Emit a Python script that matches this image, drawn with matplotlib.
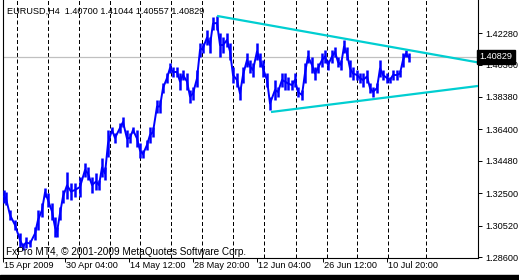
import matplotlib
matplotlib.use("Agg")
from matplotlib import pyplot as plt
from matplotlib.patches import Rectangle

# EURUSD H4 bars (bar index, high, low)
bars = [1, 3, 7, 12, 17, 20, 23, 27, 32, 35, 39, 42, 45, 49, 52, 54, 57, 60, 64,
        68, 72, 77, 82, 85, 89, 93, 96, 99, 102, 105, 109, 112, 117, 120, 124, 127, 130, 134,
        137, 140, 144, 147, 150, 154, 157, 160, 164, 167, 170, 174, 177, 180, 184, 187, 190, 194, 197, 200, 204, 207,
        210, 214, 217, 220, 224, 227, 230, 234, 237, 240, 244, 247, 250, 254, 257, 260, 264, 267,
        272, 275, 279, 282, 285, 289, 292, 295, 299, 302, 305, 309, 312, 315, 319, 322, 325, 329, 332, 335,
        338, 341, 344, 347, 350, 354, 357, 360, 364, 367, 370, 374, 377, 380, 384, 387, 390, 394, 397, 400, 403, 406]
highs = [1.3269, 1.3257, 1.3147, 1.3086, 1.3007, 1.2946, 1.2982, 1.2964, 1.3043, 1.3147, 1.3190, 1.3282, 1.3251, 1.3190, 1.3104, 1.3043, 1.3166, 1.3269, 1.3380,
         1.3312, 1.3312, 1.3349, 1.3434, 1.3410, 1.3349, 1.3373, 1.3330, 1.3465, 1.3410, 1.3636, 1.3654, 1.3618, 1.3679, 1.3715, 1.3636, 1.3618, 1.3654, 1.3636,
         1.3557, 1.3514, 1.3575, 1.3654, 1.3654, 1.3819, 1.3819, 1.3923, 1.3984, 1.4045, 1.4021, 1.4021, 1.3984, 1.4003, 1.3984, 1.3880, 1.3899, 1.4003, 1.4168, 1.4168, 1.4247, 1.4204,
         1.4326, 1.4333, 1.4229, 1.4204, 1.4229, 1.4168, 1.4021, 1.3984, 1.3899, 1.4021, 1.4106, 1.4064, 1.4045, 1.4168, 1.4106, 1.4064, 1.3984, 1.3838,
         1.3941, 1.3899, 1.3984, 1.3984, 1.3960, 1.3941, 1.3984, 1.3899, 1.3880, 1.4045, 1.4125, 1.4082, 1.4021, 1.4045, 1.4106, 1.4125, 1.4064, 1.4125, 1.4143, 1.4082,
         1.4064, 1.4186, 1.4143, 1.4064, 1.4021, 1.4003, 1.3984, 1.3984, 1.4003, 1.3923, 1.3899, 1.3923, 1.4064, 1.4003, 1.3984, 1.3960, 1.4003, 1.4003, 1.4003, 1.4106, 1.4125, 1.4106]
lows = [1.3190, 1.3178, 1.3086, 1.3025, 1.2921, 1.2903, 1.2915, 1.2921, 1.2964, 1.3025, 1.3104, 1.3227, 1.3166, 1.3086, 1.2982, 1.2982, 1.3086, 1.3190, 1.3215,
        1.3208, 1.3227, 1.3227, 1.3349, 1.3330, 1.3251, 1.3269, 1.3269, 1.3349, 1.3330, 1.3471, 1.3618, 1.3557, 1.3618, 1.3654, 1.3532, 1.3557, 1.3618, 1.3532,
        1.3465, 1.3465, 1.3514, 1.3557, 1.3593, 1.3740, 1.3740, 1.3862, 1.3923, 1.3984, 1.3960, 1.3960, 1.3880, 1.3941, 1.3880, 1.3801, 1.3819, 1.3899, 1.4082, 1.4106, 1.4155, 1.4106,
        1.4247, 1.4247, 1.4082, 1.4106, 1.4143, 1.4064, 1.3923, 1.3899, 1.3819, 1.3923, 1.4021, 1.3984, 1.3960, 1.4064, 1.4021, 1.3960, 1.3899, 1.3758,
        1.3819, 1.3838, 1.3899, 1.3880, 1.3880, 1.3880, 1.3899, 1.3838, 1.3819, 1.3923, 1.4045, 1.3984, 1.3941, 1.3984, 1.4021, 1.4045, 1.4003, 1.4045, 1.4082, 1.4021,
        1.4003, 1.4106, 1.4064, 1.3960, 1.3941, 1.3941, 1.3923, 1.3899, 1.3923, 1.3862, 1.3838, 1.3862, 1.3960, 1.3941, 1.3923, 1.3923, 1.3941, 1.3941, 1.3960, 1.4021, 1.4082, 1.4051]

last_price = 1.40829
header = "EURUSD,H4  1.40700 1.41044 1.40557 1.40829"
footer = "FxPro MT4, \u00a9 2001-2009 MetaQuotes Software Corp."

# trend lines (bar, price) start and end
upper_line = ([214, 475], [1.4333, 1.4049])
lower_line = ([268, 475], [1.3746, 1.3905])

price_ticks = [1.28600, 1.30520, 1.32500, 1.34480, 1.36400, 1.38380, 1.40360, 1.42280]
time_ticks = [0, 62, 126, 190, 254, 320, 384]
time_labels = ["15 Apr 2009", "30 Apr 04:00", "14 May 12:00", "28 May 20:00",
               "12 Jun 04:00", "26 Jun 12:00", "10 Jul 20:00"]
grid_bars = [14, 45, 76, 107, 137, 168, 199, 230, 261, 293, 324, 354, 385, 423]

W, H = 519, 280
fig = plt.figure(figsize=(W / 100, H / 100), dpi=100)
fig.patch.set_facecolor("white")
ax = fig.add_axes([3 / W, 22 / H, 475 / W, 258 / H])
ax.set_xlim(0, 475)
ax.set_ylim(1.28539, 1.44303)

for b in grid_bars:
    ax.axvline(b, color="black", lw=0.72, dashes=(4, 2.5), zorder=1)

ax.axhline(last_price, color="#c0c0c0", lw=0.9, zorder=1)

# high-low range of each bar, joined through the middle
mids = [(h + l) / 2 for h, l in zip(highs, lows)]
ax.vlines(bars, lows, highs, color="#0000ff", lw=1.8, zorder=3)
ax.plot(bars, mids, color="#0000ff", lw=1.4, zorder=3)

ax.plot(*upper_line, color="#00ced1", lw=1.6, zorder=4, solid_capstyle="butt")
ax.plot(*lower_line, color="#00ced1", lw=1.6, zorder=4, solid_capstyle="butt")

fnt = "Liberation Sans"
ax.yaxis.tick_right()
ax.set_yticks(price_ticks)
ax.set_yticklabels(["%.5f" % p for p in price_ticks], fontsize=6.6, family=fnt)
ax.tick_params(axis="y", length=3, width=0.7, pad=2)
ax.set_xticks(time_ticks)
ax.set_xticklabels([])
ax.tick_params(axis="x", length=3, width=0.7)
for t, lab in zip(time_ticks, time_labels):
    ax.text(t + 1, -0.012, lab, transform=ax.get_xaxis_transform(),
            ha="left", va="top", fontsize=6.6, family=fnt)

for s in ax.spines.values():
    s.set_linewidth(0.8)
ax.spines["top"].set_visible(False)

ax.text(0.009, 0.975, header, transform=ax.transAxes, ha="left", va="top",
        fontsize=6.6, family=fnt)
ax.text(0.006, 0.005, footer, transform=ax.transAxes, ha="left", va="bottom",
        fontsize=7.2, family=fnt, zorder=5)

# current price marker on the right scale
ax.text(1.003, last_price, "%.5f" % last_price, transform=ax.get_yaxis_transform(),
        ha="left", va="center", fontsize=6.6, family=fnt, color="white",
        bbox=dict(boxstyle="square,pad=0.25", fc="black", ec="black"), zorder=10,
        clip_on=False)

fig.patches.append(Rectangle((0, 0), 1, 5 / H, transform=fig.transFigure,
                             color="black", zorder=0))

fig.savefig("out.png", dpi=100)
